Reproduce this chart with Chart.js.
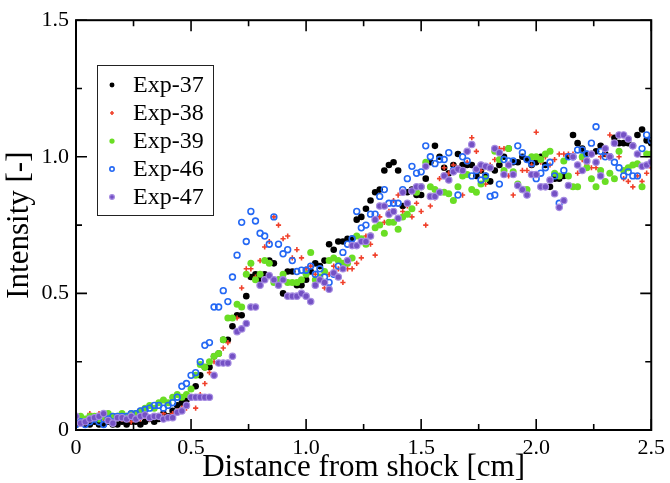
<!DOCTYPE html>
<html>
<head>
<meta charset="utf-8">
<script src="https://cdn.jsdelivr.net/npm/chart.js@4.4.1/dist/chart.umd.min.js"></script>
<style>
  body { margin: 0; background: #fff; }
  #wrap { width: 670px; height: 483px; }
</style>
</head>
<body>
<div id="wrap"><canvas id="myChart"></canvas></div>
<script>
// sample positions behind the shock [cm]
var distance = [
  0.00, 0.02, 0.04, 0.06, 0.08, 0.10, 0.12, 0.14, 0.16, 0.18,
  0.20, 0.22, 0.24, 0.26, 0.28, 0.30, 0.32, 0.34, 0.36, 0.38,
  0.40, 0.42, 0.44, 0.46, 0.48, 0.50, 0.52, 0.54, 0.56, 0.58,
  0.60, 0.62, 0.64, 0.66, 0.68, 0.70, 0.72, 0.74, 0.76, 0.78,
  0.80, 0.82, 0.84, 0.86, 0.88, 0.90, 0.92, 0.94, 0.96, 0.98,
  1.00, 1.02, 1.04, 1.06, 1.08, 1.10, 1.12, 1.14, 1.16, 1.18,
  1.20, 1.22, 1.24, 1.26, 1.28, 1.30, 1.32, 1.34, 1.36, 1.38,
  1.40, 1.42, 1.44, 1.46, 1.48, 1.50, 1.52, 1.54, 1.56, 1.58,
  1.60, 1.62, 1.64, 1.66, 1.68, 1.70, 1.72, 1.74, 1.76, 1.78,
  1.80, 1.82, 1.84, 1.86, 1.88, 1.90, 1.92, 1.94, 1.96, 1.98,
  2.00, 2.02, 2.04, 2.06, 2.08, 2.10, 2.12, 2.14, 2.16, 2.18,
  2.20, 2.22, 2.24, 2.26, 2.28, 2.30, 2.32, 2.34, 2.36, 2.38,
  2.40, 2.42, 2.44, 2.46, 2.48, 2.50
];

// intensity
var exp37 = [
  0.02, 0.03, 0.02, 0.02, 0.03, 0.02, 0.02, 0.03, 0.02, 0.02,
  0.03, 0.02, 0.03, 0.03, 0.02, 0.03, 0.04, 0.03, 0.04, 0.06,
  0.05, 0.07, 0.09, 0.10, 0.11, 0.12, 0.16, 0.20, 0.23, 0.23,
  0.27, 0.28, 0.33, 0.33, 0.38, 0.42, 0.42, 0.49, 0.56, 0.57,
  0.55, 0.57, 0.62, 0.61, 0.55, 0.50, 0.58, 0.58, 0.53, 0.53,
  0.55, 0.58, 0.61, 0.60, 0.62, 0.68, 0.66, 0.69, 0.69, 0.70,
  0.70, 0.77, 0.78, 0.81, 0.84, 0.87, 0.88, 0.95, 0.97, 0.98,
  0.95, 0.82, 0.87, 0.88, 0.86, 0.86, 0.92, 0.98, 1.04, 1.00,
  0.96, 0.94, 0.97, 1.01, 0.97, 0.97, 0.97, 0.93, 0.95, 0.93,
  0.91, 0.95, 0.97, 1.00, 1.03, 0.98, 0.98, 1.00, 0.99, 0.97,
  0.98, 1.00, 0.97, 0.89, 0.92, 0.92, 0.93, 1.00, 1.08, 1.05,
  1.03, 1.01, 1.01, 1.02, 1.04, 1.01, 1.00, 1.07, 1.05, 1.05,
  1.05, 1.04, 1.08, 1.10, 1.06, 1.05
];
var exp38 = [
  0.04, 0.05, 0.04, 0.06, 0.05, 0.06, 0.04, 0.05, 0.04, 0.05,
  0.04, 0.05, 0.03, 0.04, 0.04, 0.05, 0.04, 0.05, 0.05, 0.06,
  0.05, 0.06, 0.07, 0.08, 0.08, 0.12, 0.08, 0.13, 0.17, 0.21,
  0.25, 0.28, 0.30, 0.32, 0.41, 0.41, 0.52, 0.59, 0.59, 0.56,
  0.62, 0.67, 0.69, 0.78, 0.75, 0.70, 0.71, 0.63, 0.66, 0.63,
  0.59, 0.60, 0.57, 0.56, 0.52, 0.57, 0.60, 0.59, 0.54, 0.59,
  0.59, 0.61, 0.63, 0.71, 0.68, 0.64, 0.78, 0.76, 0.80, 0.84,
  0.86, 0.80, 0.82, 0.78, 0.83, 0.80, 0.75, 0.82, 0.85, 0.92,
  0.96, 0.94, 0.97, 0.96, 0.86, 0.98, 1.07, 1.02, 0.95, 0.90,
  0.97, 0.99, 1.03, 1.03, 0.93, 0.86, 0.90, 0.95, 0.95, 0.97,
  1.09, 0.98, 1.00, 0.97, 0.99, 1.01, 1.01, 1.01, 1.01, 0.94,
  0.99, 0.97, 0.96, 0.96, 1.00, 1.01, 1.08, 1.05, 1.00, 0.92,
  0.91, 0.89, 0.93, 0.91, 0.94, 0.96
];
var exp39 = [
  0.04, 0.05, 0.04, 0.05, 0.05, 0.04, 0.05, 0.06, 0.05, 0.05,
  0.06, 0.05, 0.06, 0.06, 0.07, 0.08, 0.09, 0.08, 0.10, 0.11,
  0.10, 0.12, 0.13, 0.12, 0.13, 0.15, 0.20, 0.24, 0.23, 0.25,
  0.27, 0.28, 0.33, 0.41, 0.41, 0.46, 0.45, 0.57, 0.61, 0.55,
  0.57, 0.62, 0.61, 0.54, 0.55, 0.57, 0.54, 0.54, 0.54, 0.55,
  0.57, 0.65, 0.55, 0.56, 0.58, 0.62, 0.63, 0.62, 0.61, 0.61,
  0.63, 0.71, 0.70, 0.68, 0.71, 0.74, 0.75, 0.72, 0.76, 0.76,
  0.735, 0.78, 0.79, 0.81, 0.87, 0.89, 0.98, 0.89, 0.88, 0.87,
  0.87, 0.865, 0.84, 0.89, 0.93, 0.935, 0.88, 0.87, 0.90, 0.92,
  0.96, 1.02, 0.99, 0.95, 1.03, 0.945, 0.90, 0.88, 0.88, 1.00,
  1.00, 0.99, 1.01, 1.02, 0.94, 0.93, 0.985, 0.93, 0.89, 0.89,
  1.00, 0.96, 0.92, 0.89, 0.95, 0.91, 0.94, 0.92, 1.02, 0.95,
  0.96, 0.97, 0.975, 0.89, 1.01, 1.01
];
var exp46 = [
  0.02, 0.03, 0.02, 0.03, 0.04, 0.03, 0.02, 0.04, 0.05, 0.05,
  0.05, 0.05, 0.06, 0.06, 0.07, 0.075, 0.08, 0.09, 0.09, 0.08,
  0.09, 0.10, 0.12, 0.16, 0.17, 0.20, 0.21, 0.25, 0.31, 0.32,
  0.45, 0.45, 0.51, 0.47, 0.56, 0.64, 0.76, 0.69, 0.80, 0.765,
  0.72, 0.71, 0.68, 0.78, 0.68, 0.645, 0.66, 0.62, 0.58, 0.585,
  0.585, 0.60, 0.57, 0.59, 0.56, 0.54, 0.57, 0.60, 0.65, 0.68,
  0.70, 0.80, 0.74, 0.75, 0.79, 0.79, 0.855, 0.88, 0.83, 0.83,
  0.83, 0.88, 0.92, 0.965, 0.94, 0.945, 1.04, 1.00, 0.975, 0.99,
  0.99, 1.015, 0.95, 0.86, 1.00, 0.985, 0.93, 0.95, 0.915, 0.93,
  0.855, 0.86, 0.90, 0.99, 0.985, 0.985, 1.04, 1.015, 0.99, 0.975,
  0.92, 0.94, 0.96, 0.98, 0.93, 0.83, 0.95, 1.00, 1.00, 1.025,
  1.025, 1.01, 1.05, 1.11, 1.02, 1.00, 1.00, 0.98, 0.96, 0.93,
  0.945, 0.93, 0.93, 1.03, 1.08, 1.06
];
var exp47 = [
  0.05, 0.025, 0.03, 0.04, 0.045, 0.05, 0.06, 0.035, 0.025, 0.045,
  0.045, 0.04, 0.05, 0.04, 0.05, 0.055, 0.045, 0.05, 0.05, 0.04,
  0.045, 0.045, 0.065, 0.07, 0.09, 0.12, 0.12, 0.12, 0.12, 0.12,
  0.20, 0.245, 0.245, 0.245, 0.27, 0.36, 0.37, 0.39, 0.45, 0.45,
  0.53, 0.55, 0.565, 0.55, 0.53, 0.55, 0.49, 0.49, 0.49, 0.50,
  0.49, 0.47, 0.53, 0.55, 0.54, 0.515, 0.575, 0.56, 0.59, 0.62,
  0.675, 0.675, 0.69, 0.69, 0.71, 0.77, 0.82, 0.82, 0.79, 0.80,
  0.775, 0.87, 0.83, 0.875, 0.89, 0.89, 0.965, 0.855, 0.855, 0.87,
  0.93, 0.915, 0.945, 0.955, 0.95, 1.02, 1.045, 0.955, 0.97, 0.965,
  0.96, 1.03, 1.015, 0.935, 0.97, 0.935, 0.895, 0.88, 0.86, 0.935,
  0.935, 0.89, 0.89, 0.915, 0.865, 0.815, 0.84, 0.895, 1.00, 0.97,
  0.95, 0.985, 1.01, 0.98, 0.93, 1.03, 1.00, 1.05, 1.08, 1.08,
  1.065, 1.04, 1.01, 0.965, 0.97, 0.98
];

var xMajor = [0, 0.5, 1, 1.5, 2, 2.5];
var xMinor = [0.25, 0.75, 1.25, 1.75, 2.25];
var yMajor = [0, 0.5, 1, 1.5];
var yMinor = [0.25, 0.75, 1.25];

var serif = "'Liberation Serif', 'Times New Roman', serif";

function series(label, values, style) {
  var ds = {
    label: label,
    data: distance.map(function (x, i) { return { x: x, y: values[i] }; }),
    showLine: false
  };
  return Object.assign(ds, style);
}

var datasets = [
  series('Exp-37', exp37, { order: 5, pointStyle: 'circle', pointRadius: 3.3, pointBackgroundColor: '#000000', pointBorderColor: '#000000', pointBorderWidth: 0 }),
  series('Exp-38', exp38, { order: 4, pointStyle: 'cross', pointRadius: 2.6, pointBackgroundColor: '#f0402a', pointBorderColor: '#f0402a', pointBorderWidth: 1.6 }),
  series('Exp-39', exp39, { order: 3, pointStyle: 'circle', pointRadius: 3.5, pointBackgroundColor: '#6ade24', pointBorderColor: '#6ade24', pointBorderWidth: 0 }),
  series('Exp-46', exp46, { order: 2, pointStyle: 'circle', pointRadius: 2.9, pointBackgroundColor: 'rgba(0,0,0,0)', pointBorderColor: '#2468f4', pointBorderWidth: 1.6 }),
  series('Exp-47', exp47, { order: 1, pointStyle: 'circle', pointRadius: 3.2, pointBackgroundColor: '#7451c4', pointBorderColor: '#a68ce2', pointBorderWidth: 1.2 })
];

// frame, inward ticks on all four sides and the boxed legend
var decorations = {
  id: 'decorations',
  afterDatasetsDraw: function (chart) {
    var ctx = chart.ctx, a = chart.chartArea;
    var xs = chart.scales.x, ys = chart.scales.y;
    ctx.save();
    ctx.strokeStyle = '#000';
    ctx.lineWidth = 1.6;
    ctx.beginPath();
    function xt(v, len) {
      var p = xs.getPixelForValue(v);
      ctx.moveTo(p, a.bottom); ctx.lineTo(p, a.bottom - len);
      ctx.moveTo(p, a.top); ctx.lineTo(p, a.top + len);
    }
    function yt(v, len) {
      var p = ys.getPixelForValue(v);
      ctx.moveTo(a.left, p); ctx.lineTo(a.left + len, p);
      ctx.moveTo(a.right, p); ctx.lineTo(a.right - len, p);
    }
    xMajor.forEach(function (v) { xt(v, 11); });
    xMinor.forEach(function (v) { xt(v, 6); });
    yMajor.forEach(function (v) { yt(v, 11); });
    yMinor.forEach(function (v) { yt(v, 6); });
    ctx.stroke();
    ctx.lineWidth = 2;
    ctx.strokeRect(a.left, a.top, a.right - a.left, a.bottom - a.top);

    // legend
    var bx = 97, by = 65, bw = 116, bh = 150;
    ctx.fillStyle = '#fff';
    ctx.fillRect(bx, by, bw, bh);
    ctx.lineWidth = 1;
    ctx.strokeStyle = '#222';
    ctx.strokeRect(bx + 0.5, by + 0.5, bw, bh);
    ctx.font = '24px ' + serif;
    ctx.textBaseline = 'middle';
    ctx.textAlign = 'left';
    datasets.forEach(function (ds, i) {
      var y = 85 + i * 28;
      ctx.fillStyle = ds.pointBackgroundColor;
      ctx.strokeStyle = ds.pointBorderColor;
      ctx.lineWidth = ds.pointBorderWidth;
      Chart.helpers.drawPoint(ctx, {
        pointStyle: ds.pointStyle, radius: ds.pointRadius * 0.75,
        rotation: 0, borderWidth: ds.pointBorderWidth
      }, 112, y);
      ctx.fillStyle = '#000';
      ctx.fillText(ds.label, 133, y + 1);
    });
    ctx.restore();
  }
};

var ctx = document.getElementById('myChart').getContext('2d');
var chart = new Chart(ctx, {
  type: 'scatter',
  data: { datasets: datasets },
  options: {
    responsive: true,
    maintainAspectRatio: false,
    animation: false,
    layout: { padding: { top: 16, right: 18, left: 0, bottom: 0 } },
    plugins: { legend: { display: false }, tooltip: { enabled: false } },
    scales: {
      x: {
        type: 'linear',
        min: 0, max: 2.5,
        grid: { display: false, drawTicks: false },
        border: { display: false },
        afterBuildTicks: function (s) { s.ticks = xMajor.map(function (v) { return { value: v }; }); },
        afterFit: function (s) { s.height = 53; },
        ticks: { color: '#000', padding: 5, maxRotation: 0, font: { family: serif, size: 22 } },
        title: { display: true, text: 'Distance from shock [cm]', color: '#000', padding: 0, font: { family: serif, size: 31, lineHeight: 1 } }
      },
      y: {
        type: 'linear',
        min: 0, max: 1.5,
        grid: { display: false, drawTicks: false },
        border: { display: false },
        afterBuildTicks: function (s) { s.ticks = yMajor.map(function (v) { return { value: v }; }); },
        afterFit: function (s) { s.width = 76; },
        ticks: { color: '#000', padding: 7, font: { family: serif, size: 22 } },
        title: { display: true, text: 'Intensity [-]', color: '#000', padding: { top: 4, bottom: 0 }, font: { family: serif, size: 31, lineHeight: 1 } }
      }
    }
  },
  plugins: [decorations]
});
</script>
</body>
</html>
